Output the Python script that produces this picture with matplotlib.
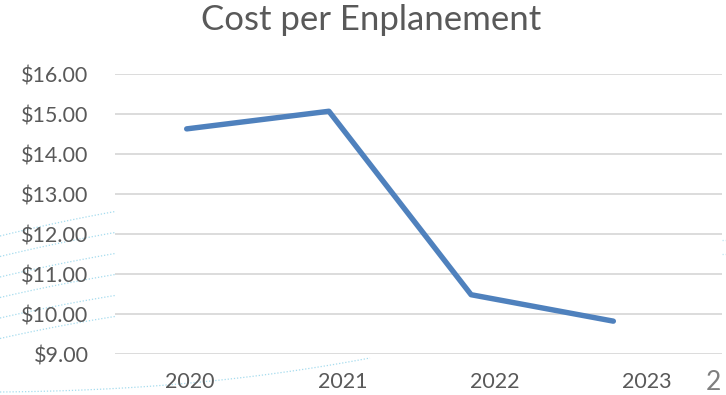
import numpy as np
import matplotlib
matplotlib.use("Agg")
import matplotlib.pyplot as plt

# ---- data ----
years = ["2020", "2021", "2022", "2023"]
cost_per_enplanement = [14.63, 15.07, 10.49, 9.83]
y_ticks = [9, 10, 11, 12, 13, 14, 15, 16]
y_tick_labels = ["$9.00", "$10.00", "$11.00", "$12.00", "$13.00", "$14.00", "$15.00", "$16.00"]
title = "Cost per Enplanement"
page_number = "2"

W, H = 726, 395
fig = plt.figure(figsize=(W / 100, H / 100), dpi=100)
fig.patch.set_facecolor("white")

FONT = ["Lato", "DejaVu Sans"]
GRAY = "#595959"

# ---- decorative dotted arcs in the background (figure pixel coords) ----
bg = fig.add_axes([0, 0, 1, 1], zorder=0)
bg.set_xlim(0, W)
bg.set_ylim(H, 0)
bg.axis("off")
xs = np.linspace(0, 118, 60)
for k in range(6):
    y0 = 236 + 20.5 * k
    y1 = 211 + 21 * k
    t = xs / 118
    ys = y0 + (y1 - y0) * t - 4 * t * (1 - t)
    bg.plot(xs, ys, color="#8fd3ea", lw=0.9, ls=(0, (1, 1.5)), alpha=0.8)
xb = np.linspace(0, 370, 120)
tb = xb / 370
yb = 392 - 4 * tb - 30 * tb ** 2.2
bg.plot(xb, yb, color="#8fd3ea", lw=0.9, ls=(0, (1, 1.5)), alpha=0.8)
xr = np.linspace(722, 726, 5)
for k in range(2):
    bg.plot(xr, 240 + 14 * k + 0 * xr, color="#8fd3ea", lw=0.9, ls=(0, (1, 1.5)), alpha=0.6)

# ---- main chart ----
left, right = 115 / W, 722 / W
top_px, bot_px = 74, 354.4
ax = fig.add_axes([left, 1 - bot_px / H, right - left, (bot_px - top_px) / H], zorder=1)
ax.set_facecolor("white")

x = np.arange(len(years))
ax.plot(x, cost_per_enplanement, color="#4f81bd", lw=3.9, solid_capstyle="round",
        solid_joinstyle="round", zorder=3)

ax.set_xlim(-0.504, 3.764)
ax.set_ylim(9, 16)
ax.set_yticks(y_ticks)
ax.set_yticklabels(y_tick_labels)
ax.yaxis.grid(True, color="#d9d9d9", lw=1.3)
ax.set_axisbelow(True)

# category labels sit slightly right of their points in the reference
label_pos = x * 1.07 + 0.025
ax.set_xticks(label_pos)
ax.set_xticklabels(years)

for s in ax.spines.values():
    s.set_visible(False)
ax.tick_params(axis="both", length=0, colors=GRAY, labelsize=15.5)
ax.tick_params(axis="y", pad=19)
ax.tick_params(axis="x", pad=13)
for lab in ax.get_xticklabels() + ax.get_yticklabels():
    lab.set_family(FONT)
    lab.set_color(GRAY)

fig.text(371 / W, 1 - 20 / H, title, ha="center", va="center", fontsize=25,
         color=GRAY, family=FONT)
fig.text(713 / W, 1 - 383 / H, page_number, ha="center", va="center", fontsize=19,
         color="#7f7f7f", family=FONT)

fig.savefig("out.png", dpi=100, facecolor="white")
